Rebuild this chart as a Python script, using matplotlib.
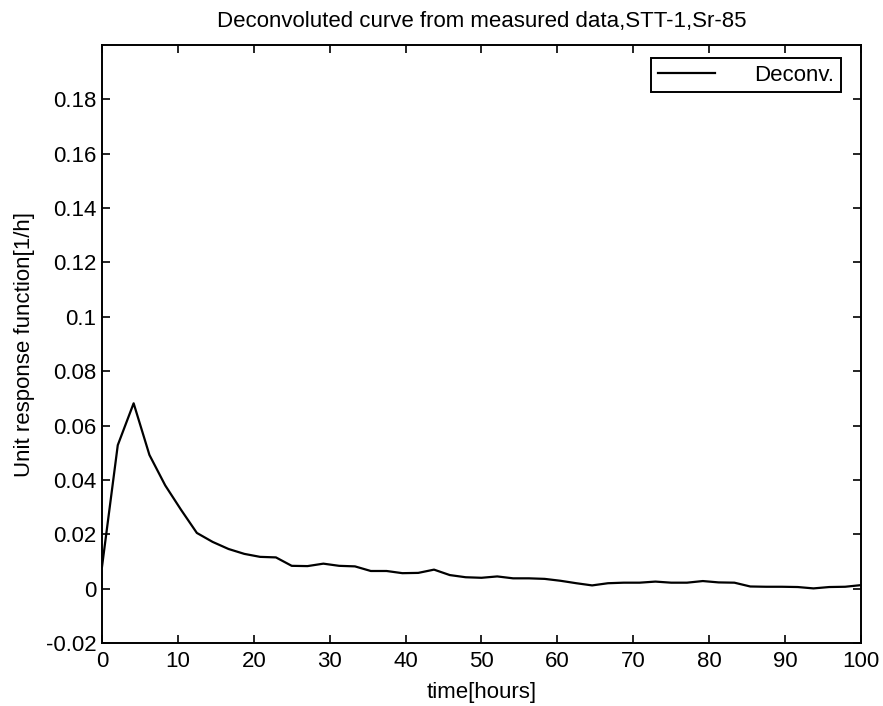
import matplotlib
matplotlib.use("Agg")
import matplotlib.pyplot as plt
import numpy as np

# data
hours = [0.0, 2.08, 4.17, 6.25, 8.33, 10.42, 12.5, 14.58, 16.67, 18.75,
         20.83, 22.92, 25.0, 27.08, 29.17, 31.25, 33.33, 35.42, 37.5, 39.58,
         41.67, 43.75, 45.83, 47.92, 50.0, 52.08, 54.17, 56.25, 58.33, 60.42,
         62.5, 64.58, 66.67, 68.75, 70.83, 72.92, 75.0, 77.08, 79.17, 81.25,
         83.33, 85.42, 87.5, 89.58, 91.67, 93.75, 95.83, 97.92, 100.0]
deconv = [0.0080, 0.0528, 0.0682, 0.0492, 0.0380, 0.0290, 0.0205, 0.0172,
          0.0146, 0.0128, 0.0117, 0.0115, 0.0084, 0.0083, 0.0092, 0.0084,
          0.0082, 0.0065, 0.0065, 0.0057, 0.0058, 0.0070, 0.0050, 0.0042,
          0.0040, 0.0045, 0.0038, 0.0038, 0.0036, 0.0029, 0.0020, 0.0012,
          0.0020, 0.0022, 0.0022, 0.0026, 0.0022, 0.0022, 0.0028, 0.0023,
          0.0022, 0.0008, 0.0007, 0.0007, 0.0006, 0.0001, 0.0006, 0.0007,
          0.0013]
xticks = [0, 10, 20, 30, 40, 50, 60, 70, 80, 90, 100]
yticks = [-0.02, 0, 0.02, 0.04, 0.06, 0.08, 0.1, 0.12, 0.14, 0.16, 0.18]

plt.rcParams["font.family"] = ["Liberation Sans", "DejaVu Sans"]

fig = plt.figure(figsize=(8.83, 7.06), dpi=100)
ax = fig.add_axes([0.1155, 0.0892, 0.8595, 0.8470])

ax.plot(hours, deconv, color="black", linewidth=1.6, label="Deconv.")

ax.set_xlim(0, 100)
ax.set_ylim(-0.02, 0.2)
ax.set_xticks(xticks)
ax.set_yticks(yticks)
ax.set_xticklabels([f"{v:g}" for v in xticks])
ax.set_yticklabels([f"{v:g}" for v in yticks])
ax.tick_params(direction="in", length=6, width=1.2, top=True, right=True,
               labelsize=16, pad=4)
ax.tick_params(axis="x", pad=6)
for s in ax.spines.values():
    s.set_linewidth(1.4)

ax.set_title("Deconvoluted curve from measured data,STT-1,Sr-85",
             fontsize=16, pad=13)
ax.set_xlabel("time[hours]", fontsize=16, labelpad=7)
ax.set_ylabel("Unit response function[1/h]", fontsize=16)
ax.yaxis.set_label_coords(-0.088, 0.5)

leg = ax.legend(loc="upper right", bbox_to_anchor=(0.9736, 0.9783),
                fancybox=False, edgecolor="black", fontsize=16,
                handlelength=2.6, handletextpad=1.75, borderpad=0.3,
                borderaxespad=0, framealpha=1)
leg.get_frame().set_linewidth(1.4)

fig.savefig("out.png", dpi=100)
